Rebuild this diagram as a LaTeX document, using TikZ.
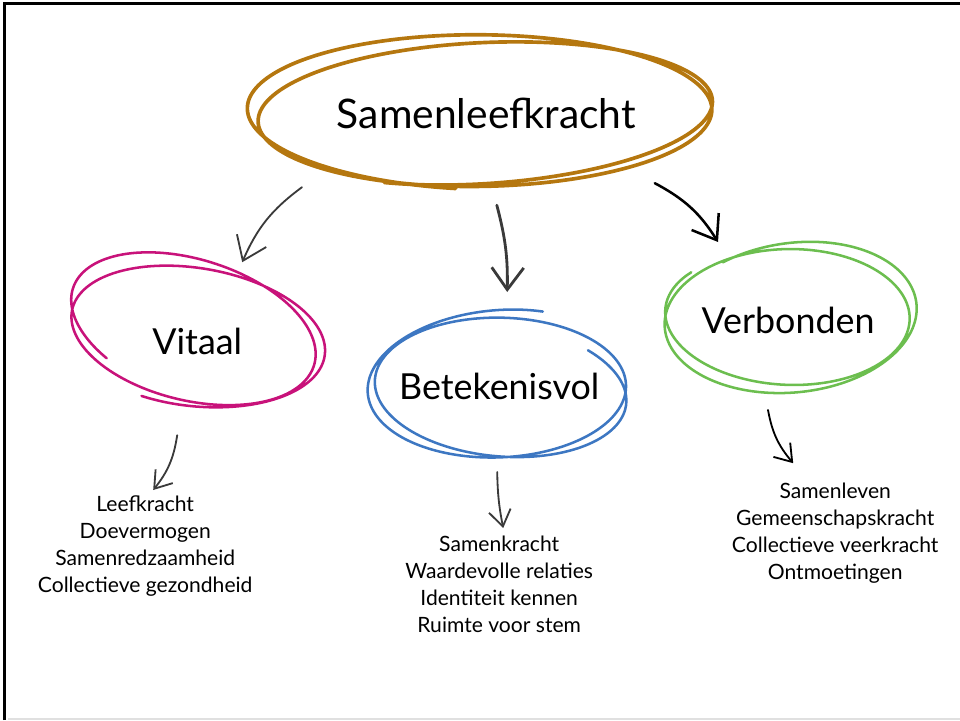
\documentclass[tikz,border=0pt]{standalone}
\usepackage{fontspec}
\setmainfont{Lato}
\usetikzlibrary{arrows.meta,calc}
\definecolor{oker}{HTML}{B5770F}
\definecolor{roze}{HTML}{C8127A}
\definecolor{blauw}{HTML}{3D77C2}
\definecolor{groen}{HTML}{6CBE4F}
\definecolor{grijs}{HTML}{3A3A3A}

\begin{document}
\begin{tikzpicture}[
	kop/.style = {font=\fontsize{29}{34}\selectfont},
	thema/.style = {font=\fontsize{25.5}{30}\selectfont},
	lijst/.style = {align=center, font=\fontsize{15}{19.2}\selectfont},
	krul/.style = {line width=#1, line cap=round, line join=round},
	pijl/.style = {draw=grijs, line width=1.3pt, line cap=round},
	groot/.style = {-{Straight Barb[length=5.5mm,width=8mm]}},
	klein/.style = {-{Straight Barb[length=4mm,width=5.5mm]}}
]
	\useasboundingbox (0,0) rectangle (24,18);
	% frame
	\draw[line width=2.4pt] (0.11,0) -- (0.11,17.91) -- (24,17.91);
	\draw[black!12, line width=1.2pt] (0.2,0.03) -- (24,0.03);

	\node[kop] (main) at (12.16,15.17) {Samenleefkracht};
	\node[thema] (vitaal) at (4.93,9.47) {Vitaal};
	\node[thema] (betek) at (12.48,8.35) {Betekenisvol};
	\node[thema] (verb) at (19.7,10.0) {Verbonden};
	\node[lijst] (vitaallijst) at (3.63,4.35) {Leefkracht\\Doevermogen\\Samenredzaamheid\\Collectieve gezondheid};
	\node[lijst] (beteklijst) at (12.48,3.39) {Samenkracht\\Waardevolle relaties\\Identiteit kennen\\Ruimte voor stem};
	\node[lijst] (verblijst) at (20.88,4.66) {Samenleven\\Gemeenschapskracht\\Collectieve veerkracht\\Ontmoetingen};

	% scribbles: two loops that drift in centre, radius and tilt
	\begin{scope}[shift={(main)}, declare function={ta(\s)=-95-745*\s; ra(\s)=5.83-0.25*\s; rb(\s)=1.98-0.28*\s;
			ph(\s)=-1.5+6*\s; cx(\s)=-0.21+0.3*\s; cy(\s)=0.075-0.12*\s;}]
		\draw[oker, krul=2.6pt] plot[domain=0:1, samples=180, smooth, variable=\s]
			({cx(\s)+ra(\s)*cos(ta(\s))*cos(ph(\s))-rb(\s)*sin(ta(\s))*sin(ph(\s))},
			 {cy(\s)+ra(\s)*cos(ta(\s))*sin(ph(\s))+rb(\s)*sin(ta(\s))*cos(ph(\s))});
	\end{scope}
	\begin{scope}[shift={(vitaal)}, declare function={ta(\s)=237-712*\s; ra(\s)=3.1+0.1*\s; rb(\s)=1.75-0.08*\s;
			ph(\s)=-20+15*\s; cx(\s)=-0.175+0.25*\s; cy(\s)=0.375-0.35*\s;}]
		\draw[roze, krul=1.8pt] plot[domain=0:1, samples=180, smooth, variable=\s]
			({cx(\s)+ra(\s)*cos(ta(\s))*cos(ph(\s))-rb(\s)*sin(ta(\s))*sin(ph(\s))},
			 {cy(\s)+ra(\s)*cos(ta(\s))*sin(ph(\s))+rb(\s)*sin(ta(\s))*cos(ph(\s))});
	\end{scope}
	\begin{scope}[shift={(betek)}, declare function={ta(\s)=65+706*\s; ra(\s)=3.25-0.15*\s; rb(\s)=1.85-0.2*\s;
			ph(\s)=6-14*\s; cx(\s)=-0.1+0.2*\s; cy(\s)=0.05-0.15*\s;}]
		\draw[blauw, krul=1.8pt] plot[domain=0:1, samples=180, smooth, variable=\s]
			({cx(\s)+ra(\s)*cos(ta(\s))*cos(ph(\s))-rb(\s)*sin(ta(\s))*sin(ph(\s))},
			 {cy(\s)+ra(\s)*cos(ta(\s))*sin(ph(\s))+rb(\s)*sin(ta(\s))*cos(ph(\s))});
	\end{scope}
	\begin{scope}[shift={(verb)}, declare function={ta(\s)=117-693*\s; ra(\s)=3.2-0.2*\s; rb(\s)=1.93-0.33*\s;
			ph(\s)=10-15*\s; cx(\s)=0.1-0.175*\s; cy(\s)=0.05*\s;}]
		\draw[groen, krul=1.8pt] plot[domain=0:1, samples=180, smooth, variable=\s]
			({cx(\s)+ra(\s)*cos(ta(\s))*cos(ph(\s))-rb(\s)*sin(ta(\s))*sin(ph(\s))},
			 {cy(\s)+ra(\s)*cos(ta(\s))*sin(ph(\s))+rb(\s)*sin(ta(\s))*cos(ph(\s))});
	\end{scope}

	% arrows
	\draw[pijl, groot] ($(main)+(-4.61,-1.85)$) to[bend right=15] ($(vitaal)+(1.125,1.975)$);
	\draw[pijl, groot, line width=2pt] ($(main)+(0.26,-2.3)$) to[bend left=8] ($(betek)+(0.2,2.35)$);
	\draw[pijl, groot, draw=black, line width=1.8pt] ($(main)+(4.21,-1.75)$) to[bend left=15] ($(verb)+(-1.75,1.95)$);
	\draw[pijl, klein] ($(vitaal)+(-0.5,-2.35)$) to[bend left=15] ($(vitaallijst)+(0.2,1.4)$);
	\draw[pijl, klein] ($(betek)+(-0.05,-2.15)$) to[bend right=5] ($(beteklijst)+(0.1,1.41)$);
	\draw[pijl, klein, draw=black] ($(verb)+(-0.5,-2.25)$) to[bend right=15] ($(verblijst)+(-1.05,1.76)$);
\end{tikzpicture}
\end{document}
